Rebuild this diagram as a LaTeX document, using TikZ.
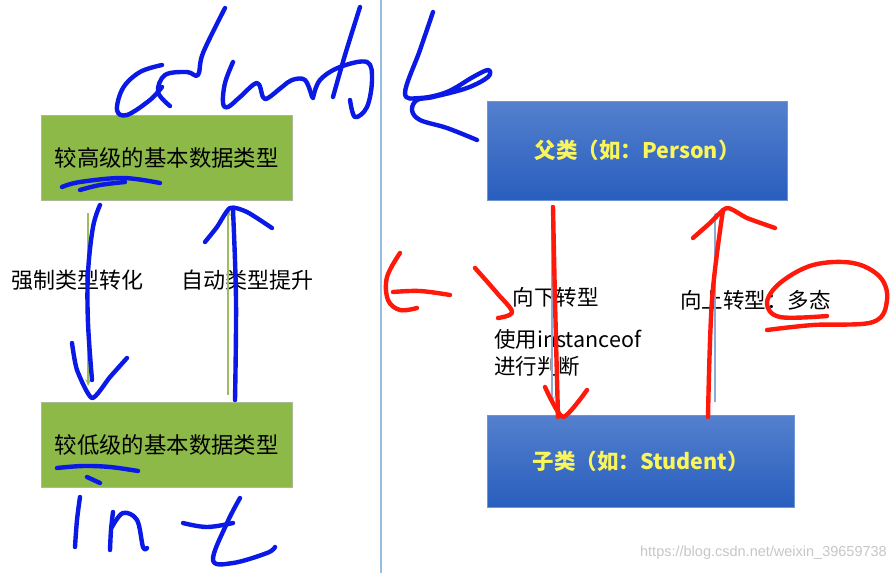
\documentclass[tikz,border=0pt]{standalone}
\usepackage{fontspec}
\setmainfont{Noto Sans CJK SC}
\newfontfamily\wmfont{Liberation Sans}
\usetikzlibrary{arrows.meta}
\definecolor{boxgreen}{RGB}{141,185,73}
\definecolor{boxgreenline}{RGB}{170,185,150}
\definecolor{bluetop}{RGB}{84,128,205}
\definecolor{bluebot}{RGB}{40,94,190}
\definecolor{blueline}{RGB}{110,150,215}
\definecolor{txtyellow}{RGB}{250,245,90}
\definecolor{thingreen}{RGB}{155,190,95}
\definecolor{thinblue}{RGB}{140,170,215}
\definecolor{sepcol}{RGB}{150,190,225}
\definecolor{penblue}{RGB}{10,25,230}
\definecolor{penred}{RGB}{255,25,10}
\begin{document}
\begin{tikzpicture}[x=1pt,y=-1pt,
  greenbox/.style={draw=boxgreenline, fill=boxgreen, minimum width=251pt, minimum height=85pt, anchor=north west, inner sep=0pt, font=\fontsize{22.4}{26}\selectfont},
  bluebox/.style={draw=blueline, top color=bluetop, bottom color=bluebot, anchor=north west, inner sep=0pt, text=txtyellow, font=\fontsize{21.5}{25}\selectfont\bfseries},
  lbl/.style={inner sep=0pt, font=\fontsize{22}{26}\selectfont},
  rlbl/.style={inner sep=0pt, font=\fontsize{21.5}{27}\selectfont},
  garrow/.style={draw=thingreen, line width=1.6pt, -{Stealth[length=7pt,width=6pt]}},
  barrow/.style={draw=thinblue, line width=1.6pt, -{Stealth[length=7pt,width=6pt]}},
  pen/.style={line width=4.4pt, line cap=round, line join=round},
  bpen/.style={pen, draw=penblue},
  rpen/.style={pen, draw=penred}]
\useasboundingbox (0,0) rectangle (896,573);
\fill[white] (0,0) rectangle (896,573);
% separator
\draw[draw=sepcol, line width=1.5pt] (381,0) -- (381,573);
% boxes
\node[greenbox] (hi) at (41,115) {较高级的基本数据类型};
\node[greenbox] (lo) at (41,402) {较低级的基本数据类型};
\node[bluebox, minimum width=300pt, minimum height=99pt] (par) at (487,101) {父类（如：Person）};
\node[bluebox, minimum width=307pt, minimum height=92pt] (sub) at (487,415) {子类（如：Student）};
% labels
\node[lbl] (l1) at (77.5,280) {强制类型转化};
\node[lbl] (l2) at (247,280) {自动类型提升};
\node[rlbl] (r1) at (555.5,297) {向下转型};
\node[rlbl, anchor=west] (r2) at (680,300) {向上转型：多态};
\node[rlbl, anchor=north west, align=left] (r3) at (494,329) {使用instanceof\\进行判断};
\node[inner sep=0pt, anchor=east, text=black!22, font=\wmfont\fontsize{14.5}{16}\selectfont] (wm) at (887,553) {https://blog.csdn.net/weixin\_39659738};
% original thin arrows
\draw[garrow] ([xshift=-78.5pt,yshift=-13pt]hi.south) -- ([xshift=-78.5pt,yshift=16pt]lo.north);
\draw[garrow] ([xshift=61.5pt,yshift=7pt]lo.north) -- ([xshift=61.5pt,yshift=-9pt]hi.south);
\draw[barrow] ([xshift=-85pt,yshift=-5pt]par.south) -- ([xshift=-88.5pt,yshift=12pt]sub.north);
\draw[barrow] ([xshift=74.5pt,yshift=13pt]sub.north) -- ([xshift=78pt,yshift=-12pt]par.south);
% handwriting: double
\draw[bpen] plot[smooth, tension=0.6] coordinates {(162,65) (140,72) (123,88) (117,110) (127,115) (150,100) (162,87)};
\draw[bpen] plot[smooth, tension=0.6] coordinates {(170,106) (158,92) (165,75) (187,72) (198,75) (203,53) (225,8)};
\draw[bpen] plot[smooth, tension=0.6] coordinates {(233,62) (225,83) (223,103) (228,107) (240,97) (257,83) (263,97) (268,98) (282,87) (292,80) (305,80) (312,97)};
\draw[bpen] plot[smooth, tension=0.6] coordinates {(360,7) (345,55) (333,97)};
\draw[bpen] plot[smooth, tension=0.6] coordinates {(313,98) (320,80) (340,67) (367,62) (372,80) (367,107) (355,117) (350,100)};
\draw[bpen] plot[smooth, tension=0.6] coordinates {(433,12) (420,50) (405,93) (420,98) (447,92) (473,77) (488,70) (488,77) (467,88) (433,97) (417,100) (412,110) (420,120) (447,128) (477,140)};
% underlines
\draw[bpen] plot[smooth, tension=0.6] coordinates {(62,187) (80,182) (123,178) (160,183)};
\draw[bpen] plot[smooth, tension=0.6] coordinates {(80,190) (100,185) (125,182)};
\draw[bpen] plot[smooth, tension=0.6] coordinates {(57,468) (83,466) (110,467) (138,471)};
\draw[bpen] plot[smooth, tension=0.6] coordinates {(87,477) (100,483)};
% int
\draw[bpen] plot[smooth, tension=0.6] coordinates {(80,497) (77,520) (75,547)};
\draw[bpen] plot[smooth, tension=0.6] coordinates {(113,512) (111,530) (110,550)};
\draw[bpen] plot[smooth, tension=0.6] coordinates {(112,527) (123,513) (137,520) (143,547) (147,548)};
\draw[bpen] plot[smooth, tension=0.6] coordinates {(183,523) (207,527) (233,523)};
\draw[bpen] plot[smooth, tension=0.6] coordinates {(240,498) (227,523) (213,560) (233,563) (267,553) (275,547)};
% blue arrows left
\draw[bpen] plot[smooth, tension=0.6] coordinates {(100,205) (93,227) (88,273) (88,323) (92,380)};
\draw[bpen] plot[smooth, tension=0.4] coordinates {(72,343) (77,370) (92,398) (110,377) (127,358)};
\draw[bpen] plot[smooth, tension=0.6] coordinates {(235,400) (236,300) (233,210)};
\draw[bpen] plot[smooth, tension=0.4] coordinates {(205,242) (217,227) (230,208) (247,212) (272,228)};
% red arrows right
\draw[rpen] plot[smooth, tension=0.6] coordinates {(553,207) (555,300) (558,417)};
\draw[rpen] plot[smooth, tension=0.4] coordinates {(545,387) (563,417) (587,390)};
\draw[rpen] plot[smooth, tension=0.6] coordinates {(708,417) (712,300) (723,210)};
\draw[rpen] plot[smooth, tension=0.4] coordinates {(693,238) (710,223) (727,208) (747,218) (775,228)};
% red left arrow sign
\draw[rpen] plot[smooth, tension=0.6] coordinates {(400,253) (387,277) (388,300) (400,310) (417,308)};
\draw[rpen] plot[smooth, tension=0.6] coordinates {(393,292) (420,291) (450,295)};
\draw[rpen] plot[smooth, tension=0.6] coordinates {(475,268) (497,293) (512,312) (498,318)};
% red circle
\draw[rpen] plot[smooth, tension=0.6] coordinates {(767,330) (813,325) (873,322) (887,300) (880,277) (853,263) (813,265) (780,283) (767,303) (780,317) (827,316)};
\end{tikzpicture}
\end{document}
